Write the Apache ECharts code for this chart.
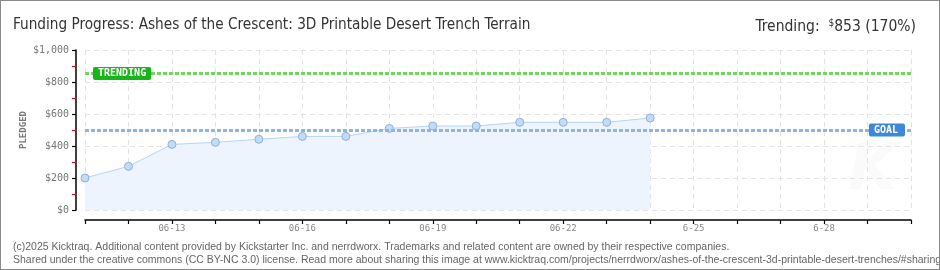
<!DOCTYPE html>
<html>
<head>
<meta charset="utf-8">
<script src="https://cdn.jsdelivr.net/npm/echarts@6/dist/echarts.min.js"></script>
<style>
html,body{margin:0;padding:0;background:#fff;}
#wrap{position:relative;width:940px;height:270px;}
#chart{position:absolute;left:0;top:0;width:940px;height:270px;}
#frame{position:absolute;left:0;top:0;width:940px;height:270px;box-sizing:border-box;border:1px solid #8a8a8a;pointer-events:none;}
</style>
</head>
<body>
<div id="wrap"><div id="chart"></div><div id="frame"></div></div>
<script>
// ---- data ----
const categories = ['06-11','06-12','06-13','06-14','06-15','06-16','06-17','06-18','06-19','06-20',
                    '06-21','06-22','06-23','06-24','06-25','06-26','06-27','06-28','06-29','06-30'];
const tickLabels = ['06-11','06-12','06-13','06-14','06-15','06-16','06-17','06-18','06-19','06-20',
                    '06-21','06-22','06-23','06-24','6-25','6-26','6-27','6-28','6-29','6-30'];
const pledged = [200, 273, 410, 423, 442, 460, 460, 510, 525, 525, 548, 548, 548, 575];
const goal = 500;
const trending = 853;
const trendingPct = 170;
const yTicks = [0, 200, 400, 600, 800, 1000];
const titleText = 'Funding Progress: Ashes of the Crescent: 3D Printable Desert Trench Terrain';
const footer1 = '(c)2025 Kicktraq. Additional content provided by Kickstarter Inc. and nerrdworx. Trademarks and related content are owned by their respective companies.';
const footer2 = 'Shared under the creative commons (CC BY-NC 3.0) license. Read more about sharing this image at www.kicktraq.com/projects/nerrdworx/ashes-of-the-crescent-3d-printable-desert-trenches/#sharing';

const chart = echarts.init(document.getElementById('chart'), null, {renderer:'canvas'});
const pixFont = '"DejaVu Sans Mono", monospace';
const headFont = '"DejaVu Sans Condensed", "Liberation Sans Narrow", sans-serif';

const option = {
  animation: false,
  title: [
    {text: titleText, left: 8, top: 13,
     textStyle:{fontFamily: headFont, fontSize:15.2, fontWeight:'normal', color:'#333'}},
    {text: '{t|Trending:  }{s|$}{t|' + trending + ' (' + trendingPct + '%)}', right: 19, top: 13,
     textStyle:{rich:{
       t:{fontFamily: headFont, fontSize:15.5, fontWeight:'normal', color:'#333'},
       s:{fontFamily: headFont, fontSize:10, fontWeight:'normal', color:'#333', verticalAlign:'top', padding:[0,0,7,0]}
     }}},
    {text: footer1, left: 8, top: 237,
     textStyle:{fontFamily:'"Liberation Sans", sans-serif', fontSize:10.5, fontWeight:'normal', color:'#666'}},
    {text: footer2, left: 8, top: 250,
     textStyle:{fontFamily:'"Liberation Sans", sans-serif', fontSize:10.5, fontWeight:'normal', color:'#666'}}
  ],
  graphic: [
    {type:'text', left: 848, top: 140, z: 0,
     style:{text:'K', font:'italic bold 64px "DejaVu Sans", sans-serif', fill:'rgba(0,0,0,0.018)'}}
  ],
  grid: {left: 85, right: 29, top: 50, bottom: 60},
  xAxis: {
    type: 'category',
    data: categories,
    boundaryGap: false,
    offset: 10,
    axisLine: {onZero:false, lineStyle:{color:'#000', width:1.5}},
    axisTick: {show:true, interval:0, length:4, lineStyle:{color:'#000', width:1.2}},
    axisLabel: {
      interval: (i) => i % 3 === 2,
      formatter: (v, i) => tickLabels[i],
      color:'#888', fontFamily: pixFont, fontSize: 9, margin: 4
    },
    splitLine: {show:true, interval:0, lineStyle:{color:'#e3e3e3', type:[5,4], width:1}}
  },
  yAxis: {
    type: 'value',
    min: yTicks[0], max: yTicks[yTicks.length-1], interval: 200,
    offset: 9,
    name: 'PLEDGED',
    nameLocation: 'middle',
    nameGap: 48,
    nameMoveOverlap: false,
    nameRotate: 90,
    nameTextStyle: {color:'#777', fontFamily: pixFont, fontSize: 9, fontWeight:'bold'},
    axisLine: {show:true, lineStyle:{color:'#000', width:1.5}},
    axisTick: {show:true, length:4, lineStyle:{color:'#000', width:1.2}},
    minorTick: {show:true, splitNumber:2, length:4, lineStyle:{color:'#e00000', width:1}},
    axisLabel: {
      formatter: (v) => '$' + v.toLocaleString('en-US'),
      color:'#777', fontFamily: pixFont, fontSize: 10, margin: 7
    },
    splitLine: {show:true, lineStyle:{color:'#e3e3e3', type:[5,4], width:1}}
  },
  series: [{
    type: 'line',
    data: pledged,
    symbol: 'circle',
    symbolSize: 8,
    itemStyle: {color:'#c3dbf6', borderColor:'#8fb0da', borderWidth:1},
    lineStyle: {color:'#b7d3f3', width:1},
    areaStyle: {color:'#edf4fd', opacity:1},
    z: 3,
    markLine: {
      silent: true,
      symbol: ['none','none'],
      animation: false,
      data: [
        {yAxis: trending,
         lineStyle:{color:'#6fd65e', type:[4,2], width:3},
         label:{show:true, formatter:'TRENDING', position:'insideStart', distance:[8,0],
                backgroundColor:'#17b517', color:'#fff', padding:[2,5,1,5], borderRadius:2,
                fontFamily: pixFont, fontSize:10, fontWeight:'bold'}},
        {yAxis: goal,
         lineStyle:{color:'#8fb4e0', type:[4,2], width:3},
         label:{show:true, formatter:'GOAL', position:'insideEnd', distance:[6,0],
                backgroundColor:'#3d88d8', color:'#fff', padding:[2,7,1,5], borderRadius:2,
                fontFamily: pixFont, fontSize:10, fontWeight:'bold'}}
      ]
    }
  }]
};
chart.setOption(option);
</script>
</body>
</html>
